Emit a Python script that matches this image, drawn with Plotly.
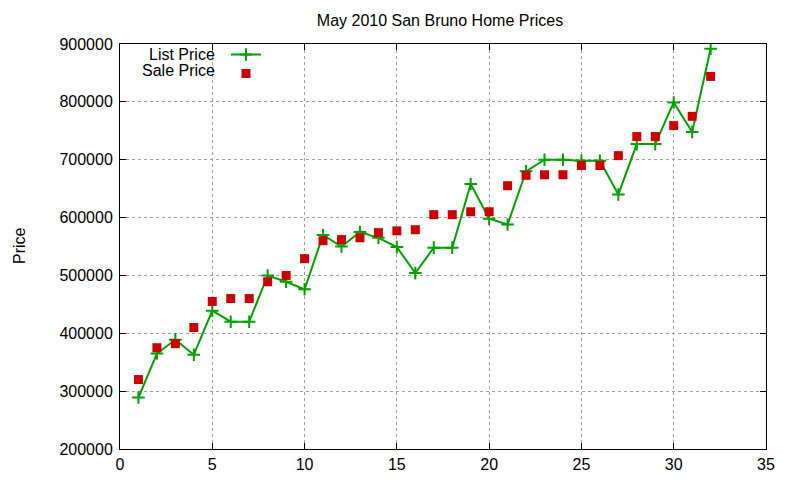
import plotly.graph_objects as go

# listing number (1..32) and prices in dollars
listing = list(range(1, 33))
list_price = [289000, 365000, 389000, 363000, 439000, 420000, 420000, 500000,
              489000, 476000, 570000, 550000, 575000, 565000, 549000, 504000,
              548000, 548000, 658000, 598000, 588000, 680000, 700000, 700000,
              698000, 698000, 640000, 727000, 727000, 799000, 748000, 892000]
sale_price = [320000, 375000, 382000, 410000, 455000, 460000, 460000, 489000,
              500000, 529000, 560000, 562000, 565000, 574000, 577000, 579000,
              605000, 605000, 610000, 610000, 655000, 673000, 674000, 674000,
              690000, 690000, 707000, 740000, 740000, 759000, 775000, 844000]

green = "#00a000"
red = "#cc0000"
font = "Liberation Sans, Arial, sans-serif"

# the page body adds an 8px offset, so the figure is 8px smaller
W, H = 792, 472
L, T, R, B = 112, 36, 34, 31
pw, ph = W - L - R, H - T - B  # 646 x 405

fig = go.Figure()
fig.add_trace(go.Scatter(
    x=listing, y=list_price, mode="lines+markers", name=" ",
    line=dict(color=green, width=2),
    marker=dict(symbol="cross-thin", size=9, line=dict(color=green, width=2)),
))
fig.add_trace(go.Scatter(
    x=listing, y=sale_price, mode="markers", name=" ",
    marker=dict(symbol="square", size=9, color=red),
))

axis_common = dict(
    showline=True, linecolor="black", linewidth=1, mirror="ticks",
    ticks="inside", ticklen=6, tickcolor="black", tickwidth=1,
    showgrid=True, gridcolor="#a0a0a0", griddash="dot", gridwidth=1,
    zeroline=False, tickfont=dict(size=16, color="black"), automargin=False,
)
fig.update_xaxes(range=[0, 35], dtick=5, tick0=0, ticklabelstandoff=1, **axis_common)
fig.update_yaxes(range=[200000, 900000], dtick=100000, tick0=200000,
                 tickformat="d", ticklabelstandoff=3, **axis_common)

# y axis label (kept inside the figure so it is not clipped)
fig.add_annotation(text="Price", textangle=-90, xref="paper", yref="paper",
                   x=(19 - 120) / pw, y=1 - (246 - 44) / ph,
                   xanchor="center", yanchor="middle", showarrow=False,
                   font=dict(size=16, color="black"))

# gnuplot-style key: text on the left, sample on the right
for txt, yy in [("List Price", 55), ("Sale Price", 71)]:
    fig.add_annotation(text=txt, xref="paper", yref="paper",
                       x=(217 - 120) / pw, y=1 - (yy - 44) / ph,
                       xanchor="right", yanchor="middle", showarrow=False,
                       font=dict(size=16, color="black"))

fig.update_layout(
    width=W, height=H,
    margin=dict(l=L, r=R, t=T, b=B),
    paper_bgcolor="white", plot_bgcolor="white",
    font=dict(family=font, size=16, color="black"),
    title=dict(text="May 2010 San Bruno Home Prices", x=(440 - 8) / W, xanchor="center",
               y=1 - (20 - 8) / H, yanchor="middle", font=dict(size=16)),
    legend=dict(x=(226 - 120) / pw, y=1 + 4 / ph, xanchor="left", yanchor="top",
                bgcolor="rgba(0,0,0,0)", font=dict(size=10), itemwidth=30,
                tracegroupgap=0),
    showlegend=True,
)

fig.write_html("out.html")
